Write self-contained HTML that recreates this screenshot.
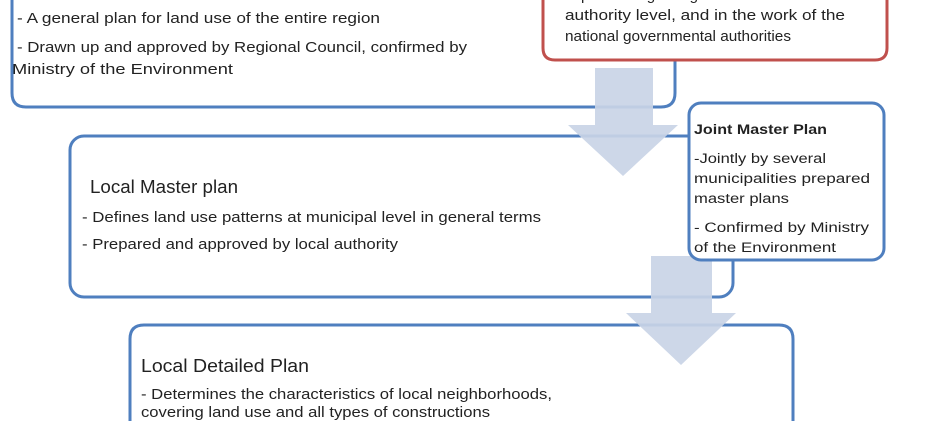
<!DOCTYPE html>
<html><head><meta charset="utf-8"><style>
html,body{margin:0;padding:0;background:#fff;width:945px;height:421px;overflow:hidden}
svg{display:block}
text{font-family:"Liberation Sans",sans-serif;fill:#222}
</style></head><body>
<svg width="945" height="421" viewBox="0 0 945 421" xmlns="http://www.w3.org/2000/svg">
<g fill="#fff" stroke="#4f7fbf" stroke-width="3">
<path d="M12,0 V93 Q12,107 26,107 H661 Q675,107 675,93 V0"/>
<rect x="70" y="136" width="663" height="161" rx="14"/>
<path d="M130,421 V339 Q130,325 144,325 H779 Q793,325 793,339 V421"/>
</g>
<path d="M543,0 V48 Q543,60 555,60 H875 Q887,60 887,48 V0" fill="#fff" stroke="#c0504d" stroke-width="3"/>
<g fill="#c9d4e6" opacity="0.92">
<polygon points="595,68 653,68 653,125 678,125 623,176 568,125 595,125"/>
<polygon points="651,256 712,256 712,313 736,313 681,365 626,313 651,313"/>
</g>
<rect x="689" y="103" width="195" height="157" rx="12" fill="#fff" stroke="#4f7fbf" stroke-width="3"/>
<g font-size="15">
<text x="17" y="23" textLength="363" lengthAdjust="spacingAndGlyphs">- A general plan for land use of the entire region</text>
<text x="17" y="52" textLength="450" lengthAdjust="spacingAndGlyphs">- Drawn up and approved by Regional Council, confirmed by</text>
<text x="12" y="74" textLength="221" lengthAdjust="spacingAndGlyphs">Ministry of the Environment</text>
<text x="565" y="0" textLength="230" lengthAdjust="spacingAndGlyphs">implementing at regional and local</text>
<text x="565" y="20" textLength="280" lengthAdjust="spacingAndGlyphs">authority level, and in the work of the</text>
<text x="565" y="41" textLength="226" lengthAdjust="spacingAndGlyphs">national governmental authorities</text>
<text x="90" y="193" font-size="18" textLength="148" lengthAdjust="spacingAndGlyphs">Local Master plan</text>
<text x="82" y="222" textLength="459" lengthAdjust="spacingAndGlyphs">- Defines land use patterns at municipal level in general terms</text>
<text x="82" y="249" textLength="316" lengthAdjust="spacingAndGlyphs">- Prepared and approved by local authority</text>
<text x="141" y="372" font-size="18" textLength="168" lengthAdjust="spacingAndGlyphs">Local Detailed Plan</text>
<text x="141" y="399" textLength="411" lengthAdjust="spacingAndGlyphs">- Determines the characteristics of local neighborhoods,</text>
<text x="141" y="417" textLength="349" lengthAdjust="spacingAndGlyphs">covering land use and all types of constructions</text>
</g>
<g font-size="13.5">
<text x="694" y="134" font-weight="bold" textLength="133" lengthAdjust="spacingAndGlyphs">Joint Master Plan</text>
<text x="694" y="163" textLength="132" lengthAdjust="spacingAndGlyphs">-Jointly by several</text>
<text x="694" y="183" textLength="176" lengthAdjust="spacingAndGlyphs">municipalities prepared</text>
<text x="694" y="203" textLength="95" lengthAdjust="spacingAndGlyphs">master plans</text>
<text x="694" y="232" textLength="175" lengthAdjust="spacingAndGlyphs">- Confirmed by Ministry</text>
<text x="694" y="252" textLength="142" lengthAdjust="spacingAndGlyphs">of the Environment</text>
</g>
</svg>
</body></html>
